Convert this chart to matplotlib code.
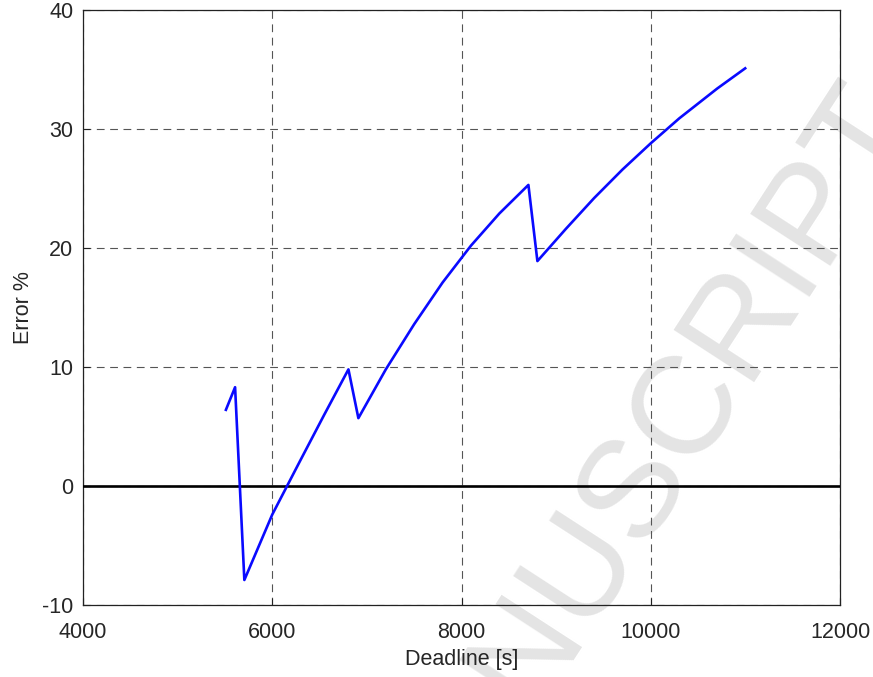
import matplotlib
matplotlib.use("Agg")
import matplotlib.pyplot as plt

# Error vs deadline (piecewise, with drops)
deadline = [5510, 5607, 5705, 6000, 6300, 6550, 6805,
            6910, 7200, 7500, 7800, 8100, 8400, 8707,
            8802, 9102, 9402, 9702, 10000, 10302, 10702, 10998]
error_pct = [6.4, 8.3, -7.9, -2.4, 2.2, 6.0, 9.8,
             5.7, 9.8, 13.6, 17.1, 20.2, 22.9, 25.3,
             18.9, 21.6, 24.2, 26.6, 28.8, 30.9, 33.4, 35.1]

x_ticks = [4000, 6000, 8000, 10000, 12000]
y_ticks = [-10, 0, 10, 20, 30, 40]

plt.rcParams['font.family'] = ['Liberation Sans', 'DejaVu Sans']
plt.rcParams['axes.unicode_minus'] = False
text_color = '#262626'

fig = plt.figure(figsize=(8.73, 6.77), dpi=100)
ax = fig.add_axes([0.0951, 0.1064, 0.9622 - 0.0951, 0.9852 - 0.1064])
ax.patch.set_visible(False)  # let the watermark show below the grid

ax.plot(deadline, error_pct, color='#0a0aff', lw=1.9, zorder=4)
ax.axhline(0, color='black', lw=1.9, zorder=3)

ax.set_xlim(4000, 12000)
ax.set_ylim(-10, 40)
ax.set_xticks(x_ticks)
ax.set_yticks(y_ticks)
ax.grid(True, color='#555555', lw=0.8, linestyle=(0, (7, 5)))
ax.set_axisbelow(True)

for s in ax.spines.values():
    s.set_color('#222222')
    s.set_linewidth(0.9)

ax.tick_params(direction='in', length=5, width=0.8, labelsize=15.5,
               labelcolor=text_color, colors='#222222')
ax.tick_params(axis='x', pad=12.5)
ax.tick_params(axis='y', pad=7)
ax.set_xlabel('Deadline [s]', fontsize=15.5, color=text_color, labelpad=4)
ax.set_ylabel('Error %', fontsize=15.5, color=text_color, labelpad=6)

# journal watermark, behind the grid and the curves
fig.text(1.055, 0.814, 'ACCEPTED MANUSCRIPT', ha='right', va='baseline',
         rotation=57, rotation_mode='anchor', fontsize=100,
         color='#e4e4e4', zorder=-1)

fig.savefig('out.png', dpi=100)
